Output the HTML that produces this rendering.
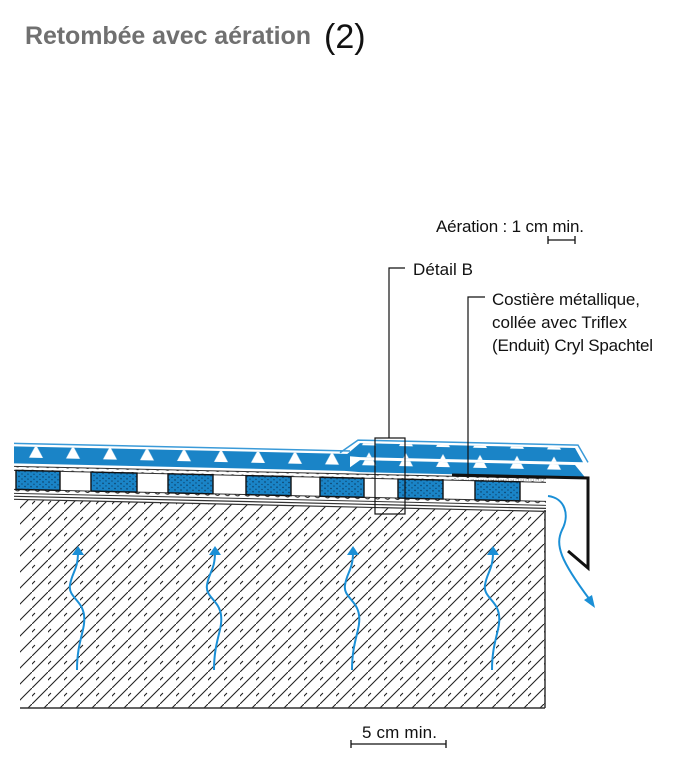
<!DOCTYPE html>
<html><head><meta charset="utf-8"><style>
body{margin:0;background:#fff;}
svg{display:block}
text{font-family:"Liberation Sans Narrow","Liberation Sans",sans-serif;}
</style></head><body>
<svg width="678" height="762" viewBox="0 0 678 762" xmlns="http://www.w3.org/2000/svg">
<defs>
<pattern id="hatch" width="16" height="16" patternUnits="userSpaceOnUse">
<path d="M-2,18 L18,-2" stroke="#222" stroke-width="1.1"/>
<path d="M-2,10 L10,-2 M6,26 L26,6" stroke="#222" stroke-width="1.1" stroke-dasharray="7,9"/>
</pattern>
<pattern id="tri" width="37" height="20" patternUnits="userSpaceOnUse" x="20">
<polygon points="9,17 16,4 23,17" fill="#fff"/>
</pattern>
<pattern id="wave" width="10" height="6" patternUnits="userSpaceOnUse">
<path d="M0,3 Q2.5,0 5,3 T10,3" fill="none" stroke="#222" stroke-width="1"/>
</pattern>
<pattern id="dots" width="6" height="5" patternUnits="userSpaceOnUse">
<circle cx="1" cy="1" r="0.7" fill="#0a3050"/><circle cx="4" cy="3.5" r="0.6" fill="#0a3050"/>
</pattern>
<clipPath id="cc"><polygon points="20,499 545,511 545,708 20,708"/></clipPath>
</defs>
<text x="25" y="44" font-size="25" font-weight="bold" fill="#707070" textLength="286">Retombée avec aération</text>
<text x="324" y="48" font-size="34" fill="#111" font-family="Liberation Sans, sans-serif">(2)</text>

<!-- concrete -->
<rect x="0" y="490" width="560" height="230" fill="url(#hatch)" clip-path="url(#cc)"/>
<line x1="20" y1="708" x2="545" y2="708" stroke="#333" stroke-width="1.5"/>
<line x1="545" y1="510" x2="545" y2="708" stroke="#333" stroke-width="1.5"/>

<g transform="skewY(1.3)">
<polygon points="14,446 350,446 350,463 14,463" fill="#1a84c7"/>
<rect x="14" y="446" width="336" height="17" fill="url(#tri)"/>
<line x1="14" y1="443" x2="350" y2="443" stroke="#3a9ad8" stroke-width="1.5"/>
<polygon points="345,463 360,452 575,452 585,464 360,464" fill="#1a84c7"/>
<rect x="360" y="452" width="220" height="12" fill="url(#tri)"/>
<polygon points="345,448 360,435 575,435 583,449 360,449" fill="#1a84c7"/>
<rect x="360" y="435" width="215" height="14" fill="url(#tri)"/>
<polyline points="340,445 358,432 578,432 588,449" fill="none" stroke="#3a9ad8" stroke-width="1.5"/>
<rect x="14" y="466" width="532" height="4" fill="url(#wave)"/>
<line x1="14" y1="466" x2="546" y2="466" stroke="#333" stroke-width="1"/>
<line x1="14" y1="470" x2="546" y2="470" stroke="#333" stroke-width="1"/>
<line x1="14" y1="489" x2="546" y2="489" stroke="#333" stroke-width="1"/>
<rect x="14" y="489" width="532" height="4" fill="url(#wave)"/>
<line x1="14" y1="493" x2="546" y2="493" stroke="#333" stroke-width="1"/>
<g stroke="#111" stroke-width="1.4">
<rect x="16" y="470" width="44" height="19" fill="#1a84c7"/>
<rect x="91" y="470" width="46" height="19" fill="#1a84c7"/>
<rect x="168" y="470" width="45" height="19" fill="#1a84c7"/>
<rect x="246" y="470" width="45" height="19" fill="#1a84c7"/>
<rect x="320" y="470" width="44" height="19" fill="#1a84c7"/>
<rect x="398" y="470" width="45" height="19" fill="#1a84c7"/>
<rect x="475" y="470" width="45" height="19" fill="#1a84c7"/>
</g>
<g fill="url(#dots)">
<rect x="16" y="470" width="44" height="19"/><rect x="91" y="470" width="46" height="19"/>
<rect x="168" y="470" width="45" height="19"/><rect x="246" y="470" width="45" height="19"/>
<rect x="320" y="470" width="44" height="19"/><rect x="398" y="470" width="45" height="19"/>
<rect x="475" y="470" width="45" height="19"/>
</g>
<line x1="14" y1="496" x2="546" y2="496" stroke="#333" stroke-width="1.2"/>
<line x1="14" y1="499" x2="546" y2="499" stroke="#333" stroke-width="1.2"/>
</g>

<rect x="455" y="476" width="90" height="4" fill="none" stroke="#333" stroke-width="0.6" stroke-dasharray="1,1.5"/>
<polyline points="452,475 588,478 588,568 568,551" fill="none" stroke="#111" stroke-width="3"/>

<rect x="375" y="438" width="30" height="76" fill="none" stroke="#111" stroke-width="1.2"/>
<polyline points="389,438 389,268 405,268" fill="none" stroke="#111" stroke-width="1.2"/>
<polyline points="468,478 468,297 485,297" fill="none" stroke="#111" stroke-width="1.2"/>

<g font-size="17" fill="#111">
<text x="436" y="232" textLength="148">Aération : 1 cm min.</text>
<text x="413" y="275" textLength="60">Détail B</text>
<text x="492" y="305" textLength="148">Costière métallique,</text>
<text x="492" y="328" textLength="135">collée avec Triflex</text>
<text x="492" y="351" textLength="161">(Enduit) Cryl Spachtel</text>
<text x="362" y="738" textLength="75">5 cm min.</text>
</g>
<g stroke="#111" stroke-width="1.3">
<line x1="548" y1="240" x2="575" y2="240"/><line x1="548" y1="236" x2="548" y2="244"/><line x1="575" y1="236" x2="575" y2="244"/>
<line x1="351" y1="744" x2="446" y2="744"/><line x1="351" y1="740" x2="351" y2="748"/><line x1="446" y1="740" x2="446" y2="748"/>
</g>

<g fill="none" stroke="#1a8fd6" stroke-width="2">
<path d="M77,670 C77,640 86,630 84,615 C82,600 68,597 70,585 C72,572 78,570 78,552"/>
<path d="M214,670 C214,640 223,630 221,615 C219,600 205,597 207,585 C209,572 215,570 215,552"/>
<path d="M352,670 C352,640 361,630 359,615 C357,600 343,597 345,585 C347,572 353,570 353,552"/>
<path d="M492,670 C492,640 501,630 499,615 C497,600 483,597 485,585 C487,572 493,570 493,552"/>
<path d="M548,496 C565,498 570,515 562,530 C555,545 560,560 590,600"/>
</g>
<g fill="#1a8fd6">
<polygon points="72,555 78,546 84,555"/>
<polygon points="209,555 215,546 221,555"/>
<polygon points="347,555 353,546 359,555"/>
<polygon points="487,555 493,546 499,555"/>
<polygon points="584,600 595,608 592,595"/>
</g>
</svg>
</body></html>
